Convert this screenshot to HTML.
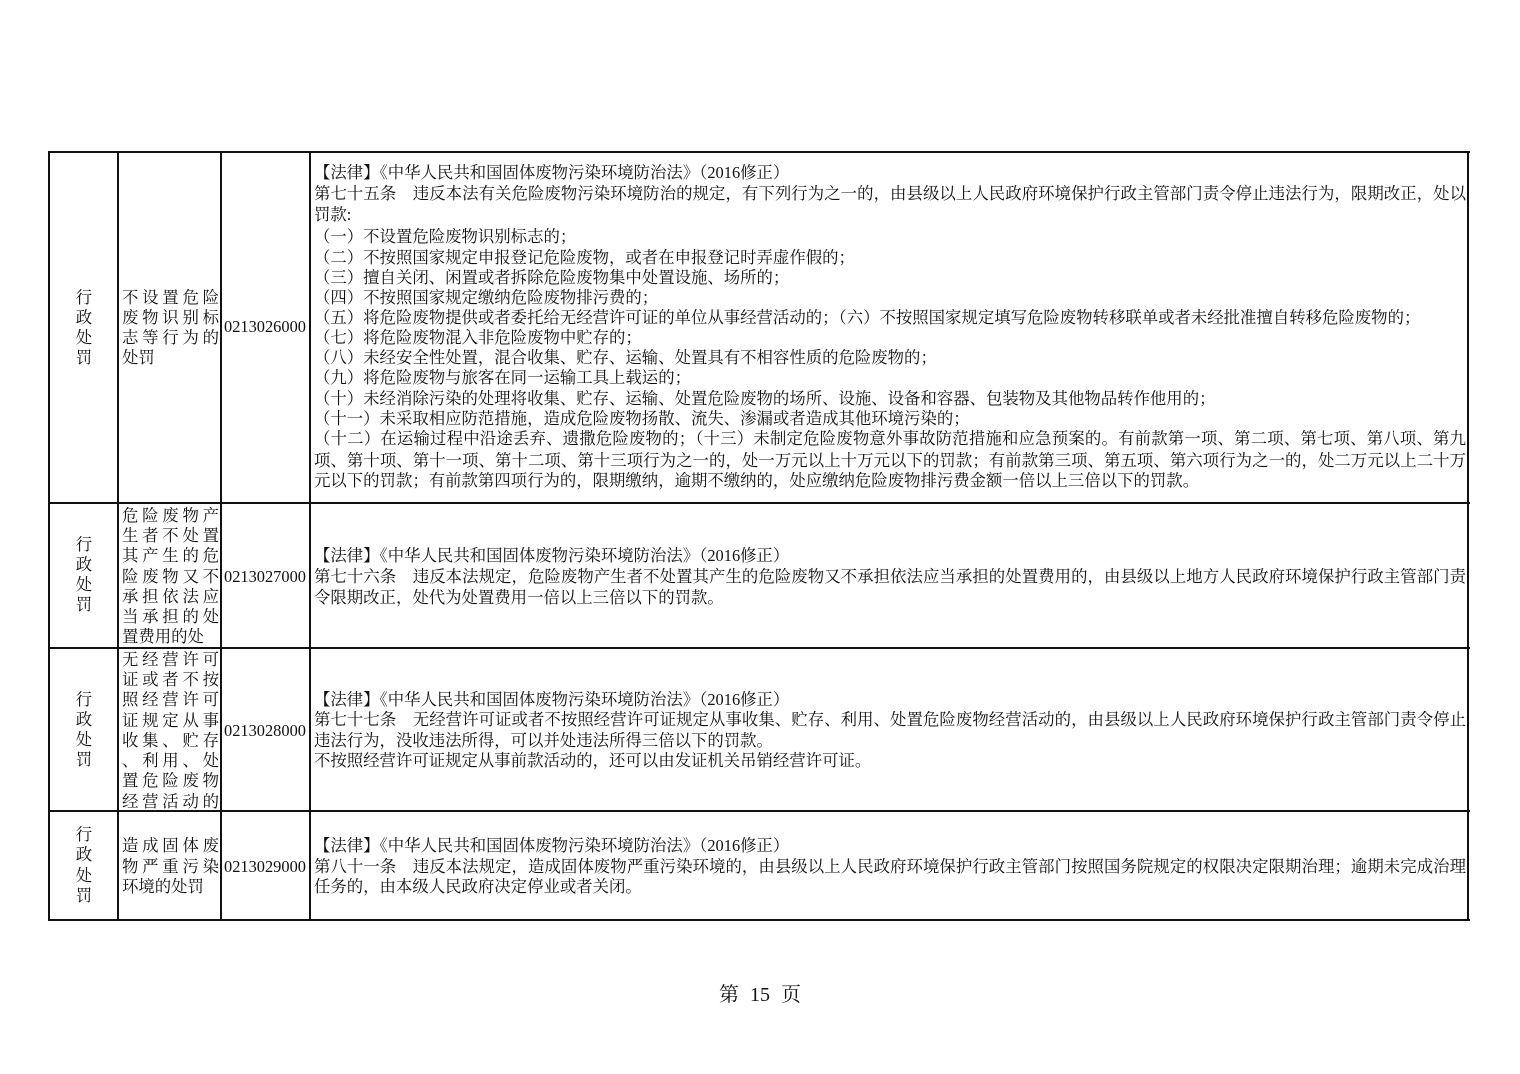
<!DOCTYPE html>
<html><head><meta charset="utf-8">
<style>
body{margin:0;background:#fff;}
#p{position:relative;width:1520px;height:1074px;overflow:hidden;background:#fff;font-family:"Liberation Serif","Noto Serif CJK SC",serif;color:#111;}
.h,.v{position:absolute;background:#111;}
.l{position:absolute;font-size:16.4px;line-height:20px;height:20px;white-space:nowrap;}
.j{white-space:normal;text-align:justify;text-align-last:justify;overflow:hidden;}
.c{text-align:center;}
</style></head><body><div id="p">
<div class="h" style="left:48px;top:151px;width:1422px;height:2px"></div>
<div class="h" style="left:48px;top:502px;width:1422px;height:2px"></div>
<div class="h" style="left:48px;top:647px;width:1422px;height:2px"></div>
<div class="h" style="left:48px;top:810px;width:1422px;height:2px"></div>
<div class="h" style="left:48px;top:919px;width:1422px;height:2px"></div>
<div class="v" style="left:48px;top:151px;width:2px;height:770px"></div>
<div class="v" style="left:117px;top:151px;width:2px;height:770px"></div>
<div class="v" style="left:220px;top:151px;width:2px;height:770px"></div>
<div class="v" style="left:309px;top:151px;width:2px;height:770px"></div>
<div class="v" style="left:1467px;top:151px;width:2px;height:770px"></div>

<div class="l c" style="left:50px;width:68px;top:288px">行</div>
<div class="l c" style="left:50px;width:68px;top:308px">政</div>
<div class="l c" style="left:50px;width:68px;top:328px">处</div>
<div class="l c" style="left:50px;width:68px;top:348px">罚</div>
<div class="l j" style="left:122px;width:97px;top:288px">不设置危险</div>
<div class="l j" style="left:122px;width:97px;top:308px">废物识别标</div>
<div class="l j" style="left:122px;width:97px;top:328px">志等行为的</div>
<div class="l" style="left:122px;top:348px">处罚</div>
<div class="l" style="left:224px;top:317px">0213026000</div>
<div class="l" style="left:314px;top:163px">【法律】《中华人民共和国固体废物污染环境防治法》（2016修正）</div>
<div class="l j" style="left:314px;width:1152px;top:184px">第七十五条　违反本法有关危险废物污染环境防治的规定，有下列行为之一的，由县级以上人民政府环境保护行政主管部门责令停止违法行为，限期改正，处以</div>
<div class="l" style="left:314px;top:205px">罚款:</div>
<div class="l" style="left:314px;top:227px">（一）不设置危险废物识别标志的；</div>
<div class="l" style="left:314px;top:248px">（二）不按照国家规定申报登记危险废物，或者在申报登记时弄虚作假的；</div>
<div class="l" style="left:314px;top:268px">（三）擅自关闭、闲置或者拆除危险废物集中处置设施、场所的；</div>
<div class="l" style="left:314px;top:288px">（四）不按照国家规定缴纳危险废物排污费的；</div>
<div class="l" style="left:314px;top:308px">（五）将危险废物提供或者委托给无经营许可证的单位从事经营活动的；（六）不按照国家规定填写危险废物转移联单或者未经批准擅自转移危险废物的；</div>
<div class="l" style="left:314px;top:328px">（七）将危险废物混入非危险废物中贮存的；</div>
<div class="l" style="left:314px;top:348px">（八）未经安全性处置，混合收集、贮存、运输、处置具有不相容性质的危险废物的；</div>
<div class="l" style="left:314px;top:368px">（九）将危险废物与旅客在同一运输工具上载运的；</div>
<div class="l" style="left:314px;top:389px">（十）未经消除污染的处理将收集、贮存、运输、处置危险废物的场所、设施、设备和容器、包装物及其他物品转作他用的；</div>
<div class="l" style="left:314px;top:409px">（十一）未采取相应防范措施，造成危险废物扬散、流失、渗漏或者造成其他环境污染的；</div>
<div class="l j" style="left:314px;width:1152px;top:429px">（十二）在运输过程中沿途丢弃、遗撒危险废物的；（十三）未制定危险废物意外事故防范措施和应急预案的。有前款第一项、第二项、第七项、第八项、第九</div>
<div class="l j" style="left:314px;width:1152px;top:451px">项、第十项、第十一项、第十二项、第十三项行为之一的，处一万元以上十万元以下的罚款；有前款第三项、第五项、第六项行为之一的，处二万元以上二十万</div>
<div class="l" style="left:314px;top:471px">元以下的罚款；有前款第四项行为的，限期缴纳，逾期不缴纳的，处应缴纳危险废物排污费金额一倍以上三倍以下的罚款。</div>

<div class="l c" style="left:50px;width:68px;top:535px">行</div>
<div class="l c" style="left:50px;width:68px;top:555px">政</div>
<div class="l c" style="left:50px;width:68px;top:575px">处</div>
<div class="l c" style="left:50px;width:68px;top:595px">罚</div>
<div class="l j" style="left:122px;width:97px;top:506px">危险废物产</div>
<div class="l j" style="left:122px;width:97px;top:526px">生者不处置</div>
<div class="l j" style="left:122px;width:97px;top:546px">其产生的危</div>
<div class="l j" style="left:122px;width:97px;top:567px">险废物又不</div>
<div class="l j" style="left:122px;width:97px;top:587px">承担依法应</div>
<div class="l j" style="left:122px;width:97px;top:607px">当承担的处</div>
<div class="l" style="left:122px;top:627px">置费用的处</div>
<div class="l" style="left:224px;top:567px">0213027000</div>
<div class="l" style="left:314px;top:546px">【法律】《中华人民共和国固体废物污染环境防治法》（2016修正）</div>
<div class="l j" style="left:314px;width:1152px;top:567px">第七十六条　违反本法规定，危险废物产生者不处置其产生的危险废物又不承担依法应当承担的处置费用的，由县级以上地方人民政府环境保护行政主管部门责</div>
<div class="l" style="left:314px;top:588px">令限期改正，处代为处置费用一倍以上三倍以下的罚款。</div>

<div class="l c" style="left:50px;width:68px;top:690px">行</div>
<div class="l c" style="left:50px;width:68px;top:710px">政</div>
<div class="l c" style="left:50px;width:68px;top:730px">处</div>
<div class="l c" style="left:50px;width:68px;top:750px">罚</div>
<div class="l j" style="left:122px;width:97px;top:650px">无经营许可</div>
<div class="l j" style="left:122px;width:97px;top:670px">证或者不按</div>
<div class="l j" style="left:122px;width:97px;top:690px">照经营许可</div>
<div class="l j" style="left:122px;width:97px;top:711px">证规定从事</div>
<div class="l j" style="left:122px;width:97px;top:731px">收集、贮存</div>
<div class="l j" style="left:122px;width:97px;top:751px">、利用、处</div>
<div class="l j" style="left:122px;width:97px;top:771px">置危险废物</div>
<div class="l j" style="left:122px;width:97px;top:792px">经营活动的</div>
<div class="l" style="left:224px;top:721px">0213028000</div>
<div class="l" style="left:314px;top:690px">【法律】《中华人民共和国固体废物污染环境防治法》（2016修正）</div>
<div class="l j" style="left:314px;width:1152px;top:710px">第七十七条　无经营许可证或者不按照经营许可证规定从事收集、贮存、利用、处置危险废物经营活动的，由县级以上人民政府环境保护行政主管部门责令停止</div>
<div class="l" style="left:314px;top:731px">违法行为，没收违法所得，可以并处违法所得三倍以下的罚款。</div>
<div class="l" style="left:314px;top:751px">不按照经营许可证规定从事前款活动的，还可以由发证机关吊销经营许可证。</div>

<div class="l c" style="left:50px;width:68px;top:825px">行</div>
<div class="l c" style="left:50px;width:68px;top:845px">政</div>
<div class="l c" style="left:50px;width:68px;top:866px">处</div>
<div class="l c" style="left:50px;width:68px;top:886px">罚</div>
<div class="l j" style="left:122px;width:97px;top:836px">造成固体废</div>
<div class="l j" style="left:122px;width:97px;top:857px">物严重污染</div>
<div class="l" style="left:122px;top:877px">环境的处罚</div>
<div class="l" style="left:224px;top:857px">0213029000</div>
<div class="l" style="left:314px;top:836px">【法律】《中华人民共和国固体废物污染环境防治法》（2016修正）</div>
<div class="l j" style="left:314px;width:1152px;top:857px">第八十一条　违反本法规定，造成固体废物严重污染环境的，由县级以上人民政府环境保护行政主管部门按照国务院规定的权限决定限期治理；逾期未完成治理</div>
<div class="l" style="left:314px;top:877px">任务的，由本级人民政府决定停业或者关闭。</div>

<div style="position:absolute;left:660px;width:200px;top:981px;text-align:center;font-size:20px;line-height:28px;word-spacing:6px;">第 15 页</div>
</div></body></html>
